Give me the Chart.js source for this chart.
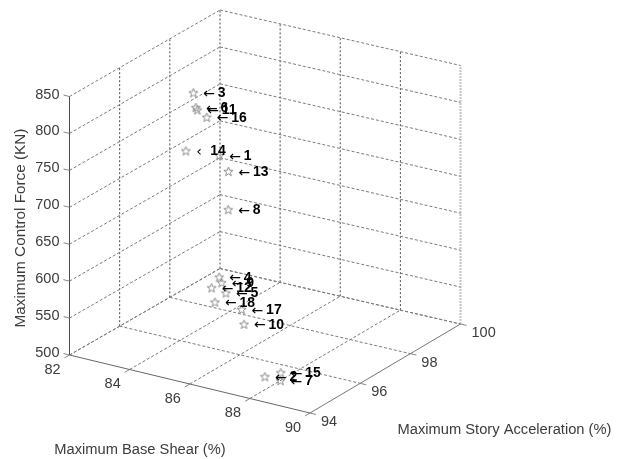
<!DOCTYPE html>
<html>
<head>
<meta charset="utf-8">
<script src="https://cdn.jsdelivr.net/npm/chart.js@4/dist/chart.umd.js"></script>
<style>
html, body { margin: 0; padding: 0; background: #fff; }
canvas { display: block; }
</style>
</head>
<body>
<canvas id="chart" width="619" height="459"></canvas>
<script>
const solutions    = [1, 2, 3, 4, 5, 6, 7, 8, 9, 10, 11, 12, 13, 14, 15, 16, 17, 18];
const baseShear    = [84.98, 88.00, 84.45, 85.31, 85.70, 84.37, 88.52, 85.61, 85.56, 86.47, 84.25, 85.06, 85.45, 83.70, 88.36, 84.73, 86.39, 85.17];
const storyAccel   = [96.4, 94.6, 96.0, 96.0, 95.8, 96.2, 94.6, 96.0, 95.8, 95.6, 96.4, 96.0, 96.2, 96.6, 94.8, 96.2, 95.6, 96.0];
const controlForce = [751.9, 517.5, 839.6, 598.4, 584.6, 814.9, 517.2, 692.6, 597.2, 553.7, 806.6, 581.5, 738.8, 742.0, 522.4, 805.2, 572.9, 563.1];

const shearTicks = [82, 84, 86, 88, 90];
const accelTicks = [94, 96, 98, 100];
const forceTicks = [500, 550, 600, 650, 700, 750, 800, 850];

const shearTitle = "Maximum Base Shear (%)";
const accelTitle = "Maximum Story Acceleration (%)";
const forceTitle = "Maximum Control Force (KN)";

// view of the 3D box, the 2D scales below run in page pixels
// sag is the slight drop of the back corner seen in the original
const view = { x0: 69.5, y0: 355, xx: 240.5, xy: 58, yx: 150.5, yy: -89, zy: -258.5, sag: 2.5 };

function project(s, a, f) {
    const u = (s - 82) / 8;
    const v = (a - 94) / 6;
    const w = (f - 500) / 350;
    return {
        x: view.x0 + view.xx * u + view.yx * v,
        y: view.y0 + view.xy * u + view.yy * v + view.zy * w + view.sag * (1 - u) * v,
    };
}

function line(from, to, color, dash, width) {
    return {
        data: [project(...from), project(...to)],
        showLine: true,
        pointRadius: 0,
        borderColor: color,
        borderWidth: width || 1,
        borderDash: dash || [],
        order: 5,
    };
}

const GRID = "#7a7a7a";
const WALL = "#4a4a4a";
const DASH = [3, 2];
const datasets = [];

// floor
shearTicks.slice(0, -1).forEach(s => datasets.push(line([s, 94, 500], [s, 100, 500], GRID, DASH)));
accelTicks.slice(1).forEach(a => datasets.push(line([82, a, 500], [90, a, 500], GRID, DASH)));

// left and back walls
forceTicks.forEach(f => {
    datasets.push(line([82, 94, f], [82, 100, f], GRID, DASH));
    datasets.push(line([82, 100, f], [90, 100, f], GRID, DASH));
});
accelTicks.slice(1).forEach(a => datasets.push(line([82, a, 500], [82, a, 850], WALL, [2, 2])));
shearTicks.slice(1, -1).forEach(s => datasets.push(line([s, 100, 500], [s, 100, 850], WALL, [2, 2])));
datasets.push(line([90, 100, 500], [90, 100, 850], "#c4c4c4", [2, 1], 2));

// axes and tick stubs
datasets.push(line([82, 94, 500], [82, 94, 850], "#4a4a4a"));
datasets.push(line([82, 94, 500], [90, 94, 500], "#666"));
datasets.push(line([90, 94, 500], [90, 100, 500], "#777"));
shearTicks.forEach(s => datasets.push(line([s, 94, 500], [s, 93.8, 500], "#888")));
accelTicks.forEach(a => datasets.push(line([90, a, 500], [90.2, a, 500], "#888")));
forceTicks.forEach(f => datasets.push(line([82, 94, f], [81.8, 94, f], "#888")));

// matlab style pentagram marker
function starMarker() {
    const c = document.createElement("canvas");
    c.width = 11;
    c.height = 11;
    const g = c.getContext("2d");
    g.beginPath();
    for (let i = 0; i < 10; i++) {
        const r = i % 2 ? 2 : 4.8;
        const a = -Math.PI / 2 + i * Math.PI / 5;
        g[i ? "lineTo" : "moveTo"](5.5 + r * Math.cos(a), 5.8 + r * Math.sin(a));
    }
    g.closePath();
    g.strokeStyle = "#8c8c8c";
    g.lineWidth = 1;
    g.stroke();
    return c;
}

datasets.push({
    data: solutions.map((n, i) => project(baseShear[i], storyAccel[i], controlForce[i])),
    showLine: false,
    pointStyle: starMarker(),
    order: 1,
});

const textLayer = {
    id: "textLayer",
    afterDatasetsDraw(chart) {
        const ctx = chart.ctx;
        const sx = chart.scales.x;
        const sy = chart.scales.y;
        const put = (text, x, y, align) => {
            ctx.textAlign = align || "center";
            ctx.fillText(text, x, y);
        };

        ctx.save();
        ctx.textBaseline = "middle";

        // tick labels
        ctx.font = '14.5px "Liberation Sans"';
        ctx.fillStyle = "#3c3c3c";
        shearTicks.forEach(s => {
            const p = project(s, 94, 500);
            put(String(s), sx.getPixelForValue(p.x) - 17, sy.getPixelForValue(p.y) + 14.5);
        });
        accelTicks.forEach(a => {
            const p = project(90, a, 500);
            put(String(a), sx.getPixelForValue(p.x) + 11, sy.getPixelForValue(p.y) + 9, "left");
        });
        forceTicks.forEach(f => {
            const p = project(82, 94, f);
            put(String(f), sx.getPixelForValue(p.x) - 10, sy.getPixelForValue(p.y) - 2, "right");
        });

        // axis titles
        ctx.font = '14.7px "Liberation Sans"';
        put(shearTitle, 140, 450);
        put(accelTitle, 504.5, 430);
        ctx.save();
        ctx.font = '15.3px "Liberation Sans"';
        ctx.translate(20.5, 228);
        ctx.rotate(-Math.PI / 2);
        put(forceTitle, 0, 0);
        ctx.restore();

        // solution labels, arrow then number
        ctx.fillStyle = "#000";
        solutions.forEach((n, i) => {
            const p = project(baseShear[i], storyAccel[i], controlForce[i]);
            const x = sx.getPixelForValue(p.x);
            const y = sy.getPixelForValue(p.y);
            ctx.font = '14px "DejaVu Sans"';
            put(n === 14 ? "\u2039" : "\u2190", x + (n === 14 ? 10.5 : 10), y + 1.5, "left");
            ctx.font = 'bold 14px "Liberation Sans"';
            put(String(n), x + 24.5, y + 0.5, "left");
        });
        ctx.restore();
    },
};

new Chart(document.getElementById("chart"), {
    type: "scatter",
    data: { datasets },
    options: {
        responsive: false,
        animation: false,
        layout: { padding: 0, autoPadding: false },
        plugins: { legend: { display: false }, tooltip: { enabled: false } },
        scales: {
            x: { type: "linear", display: false, min: 0, max: 619 },
            y: { type: "linear", display: false, min: 0, max: 459, reverse: true },
        },
    },
    plugins: [textLayer],
});
</script>
</body>
</html>
